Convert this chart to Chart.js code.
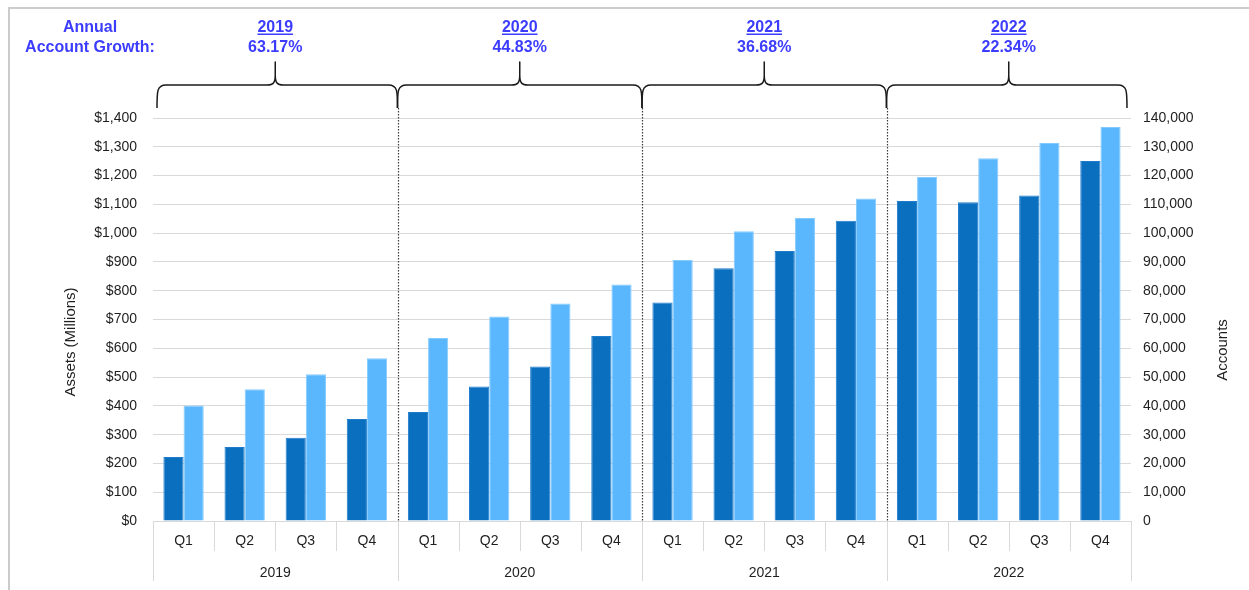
<!DOCTYPE html>
<html>
<head>
<meta charset="utf-8">
<title>Assets and Accounts by Quarter</title>
<script src="https://cdn.jsdelivr.net/npm/chart.js@4.4.1/dist/chart.umd.min.js"></script>
<style>
  html, body { margin: 0; padding: 0; background: #ffffff; }
  #wrap { position: relative; width: 1249px; height: 590px; overflow: hidden; }
  #frame { position: absolute; left: 8px; top: 7px; right: -4px; bottom: -4px;
           border-top: 2px solid #cccccc; border-left: 2px solid #cccccc; }
  #c { position: absolute; left: 0; top: 0; }
</style>
</head>
<body>
<div id="wrap">
  <div id="frame"></div>
  <canvas id="c" width="1249" height="590"></canvas>
</div>
<script>
// ---- data ----
const years = ['2019', '2020', '2021', '2022'];
const quarters = ['Q1', 'Q2', 'Q3', 'Q4'];
const accountGrowth = ['63.17%', '44.83%', '36.68%', '22.34%'];
const growthHeading = ['Annual', 'Account Growth:'];

// Assets in $ millions, one value per quarter 2019 Q1 .. 2022 Q4
const assets = [222, 257, 289, 354,  379, 467, 537, 643,  759, 878, 938, 1043,  1112, 1107, 1131, 1251];
// Number of accounts, same quarters
const accounts = [40100, 45800, 51000, 56500,  63600, 71000, 75600, 82200,
                  90700, 100700, 105300, 112000,  119500, 126000, 131300, 136900];

const assetTicks = { min: 0, max: 1400, step: 100 };
const accountTicks = { min: 0, max: 140000, step: 10000 };
const axisTitles = { left: 'Assets (Millions)', right: 'Accounts' };

// one label per bar group: Q1..Q4 repeated for every year
const quarterLabels = years.flatMap(() => quarters);

// ---- styling ----
const FONT = '"Liberation Sans", Arial, Helvetica, sans-serif';
const DARK = '#0a6fbf';
const LIGHT = '#5ab7fe';
const GRID = '#d9d9d9';
const BLUE = '#3c3cff';
const TEXT = '#1f1f1f';

// draws the quarter/year separators, year braces with growth notes and the axis titles
const decor = {
  id: 'decor',
  afterDraw(chart) {
    const { ctx, chartArea: area, scales } = chart;
    const x = scales.x, x2 = scales.x2;
    const step = x.getPixelForValue(1) - x.getPixelForValue(0);
    const edge = i => x.getPixelForValue(i) - step / 2;
    const nq = quarterLabels.length;
    const per = quarters.length;

    ctx.save();

    // separators below the plot
    ctx.strokeStyle = GRID;
    ctx.lineWidth = 1;
    for (let i = 0; i <= nq; i++) {
      const px = Math.round(edge(i)) + 0.5;
      const bottom = (i % per === 0) ? x2.bottom : x.bottom;
      ctx.beginPath();
      ctx.moveTo(px, area.bottom);
      ctx.lineTo(px, bottom);
      ctx.stroke();
    }

    // dotted year dividers inside the plot
    ctx.strokeStyle = '#3a3a3a';
    ctx.lineWidth = 1.2;
    ctx.setLineDash([1.5, 1.5]);
    for (let g = 1; g < years.length; g++) {
      const px = Math.round(edge(g * per)) + 0.5;
      ctx.beginPath();
      ctx.moveTo(px, area.top - 10);
      ctx.lineTo(px, area.bottom);
      ctx.stroke();
    }
    ctx.setLineDash([]);

    // curly braces over each year
    const yEnd = area.top - 10, yBar = area.top - 33, yPeak = area.top - 56;
    ctx.strokeStyle = '#1a1a1a';
    ctx.lineWidth = 1.5;
    ctx.lineJoin = 'round';
    for (let g = 0; g < years.length; g++) {
      const a = edge(g * per), b = edge((g + 1) * per);
      const L = a + (g === 0 ? 4 : 0);
      const R = b - (g === years.length - 1 ? 4 : 0);
      const M = (a + b) / 2;
      ctx.beginPath();
      ctx.moveTo(L, yEnd);
      ctx.bezierCurveTo(L, yBar + 6, L, yBar, L + 9, yBar);
      ctx.lineTo(M - 8, yBar);
      ctx.bezierCurveTo(M - 2, yBar, M, yBar - 2, M, yBar - 10);
      ctx.lineTo(M, yPeak);
      ctx.lineTo(M, yBar - 10);
      ctx.bezierCurveTo(M, yBar - 2, M + 2, yBar, M + 8, yBar);
      ctx.lineTo(R - 9, yBar);
      ctx.bezierCurveTo(R, yBar, R, yBar + 6, R, yEnd);
      ctx.stroke();

      // year heading (underlined) and growth rate
      ctx.fillStyle = BLUE;
      ctx.font = 'bold 16px ' + FONT;
      ctx.textAlign = 'center';
      ctx.textBaseline = 'alphabetic';
      const yLine1 = area.top - 86, yLine2 = area.top - 66;
      ctx.fillText(years[g], M, yLine1);
      const w = ctx.measureText(years[g]).width;
      ctx.fillRect(M - w / 2, yLine1 + 1.5, w, 1.5);
      ctx.fillText(accountGrowth[g], M, yLine2);
    }

    // heading at the left
    ctx.fillStyle = BLUE;
    ctx.font = 'bold 16px ' + FONT;
    ctx.textAlign = 'center';
    ctx.fillText(growthHeading[0], 90, area.top - 86);
    ctx.fillText(growthHeading[1], 90, area.top - 66);

    // axis titles
    ctx.fillStyle = TEXT;
    ctx.font = '15px ' + FONT;
    ctx.textBaseline = 'middle';
    ctx.save();
    ctx.translate(71, 342);
    ctx.rotate(-Math.PI / 2);
    ctx.fillText(axisTitles.left, 0, 0);
    ctx.restore();
    ctx.save();
    ctx.translate(1223, 350);
    ctx.rotate(-Math.PI / 2);
    ctx.fillText(axisTitles.right, 0, 0);
    ctx.restore();

    ctx.restore();
  }
};

const tickFont = { family: FONT, size: 14 };

new Chart(document.getElementById('c'), {
  type: 'bar',
  data: {
    labels: quarterLabels,
    datasets: [
      {
        label: 'Assets (Millions)',
        data: assets,
        yAxisID: 'y',
        backgroundColor: DARK,
        borderColor: '#1f7ccc',
        borderWidth: 1,
        categoryPercentage: 0.66,
        barPercentage: 1.0
      },
      {
        label: 'Accounts',
        data: accounts,
        yAxisID: 'y1',
        backgroundColor: LIGHT,
        borderColor: '#86cbff',
        borderWidth: 1,
        categoryPercentage: 0.66,
        barPercentage: 1.0
      }
    ]
  },
  options: {
    responsive: false,
    animation: false,
    events: [],
    layout: { padding: { left: 0, right: 0, top: 118, bottom: 9 } },
    plugins: {
      legend: { display: false },
      tooltip: { enabled: false }
    },
    scales: {
      x: {
        type: 'category',
        position: 'bottom',
        weight: 0,
        offset: true,
        grid: { display: false, drawTicks: false },
        border: { display: false },
        ticks: { color: TEXT, font: tickFont, padding: 12, maxRotation: 0, autoSkip: false },
        afterFit(s) { s.height = 30; }
      },
      x2: {
        type: 'category',
        labels: years,
        position: 'bottom',
        weight: 1,
        offset: true,
        grid: { display: false, drawTicks: false },
        border: { display: false },
        ticks: { color: TEXT, font: tickFont, padding: 14, maxRotation: 0, autoSkip: false },
        afterFit(s) { s.height = 30; }
      },
      y: {
        position: 'left',
        min: assetTicks.min,
        max: assetTicks.max,
        grid: { color: GRID, lineWidth: 1, drawTicks: false },
        border: { display: false },
        ticks: {
          stepSize: assetTicks.step,
          color: TEXT,
          font: tickFont,
          padding: 16,
          callback: v => '$' + Number(v).toLocaleString('en-US')
        },
        afterFit(s) { s.width = 153; }
      },
      y1: {
        position: 'right',
        min: accountTicks.min,
        max: accountTicks.max,
        grid: { drawOnChartArea: false, drawTicks: false },
        border: { display: false },
        ticks: {
          stepSize: accountTicks.step,
          color: TEXT,
          font: tickFont,
          padding: 12,
          callback: v => Number(v).toLocaleString('en-US')
        },
        afterFit(s) { s.width = 118; }
      }
    }
  },
  plugins: [decor]
});
</script>
</body>
</html>
